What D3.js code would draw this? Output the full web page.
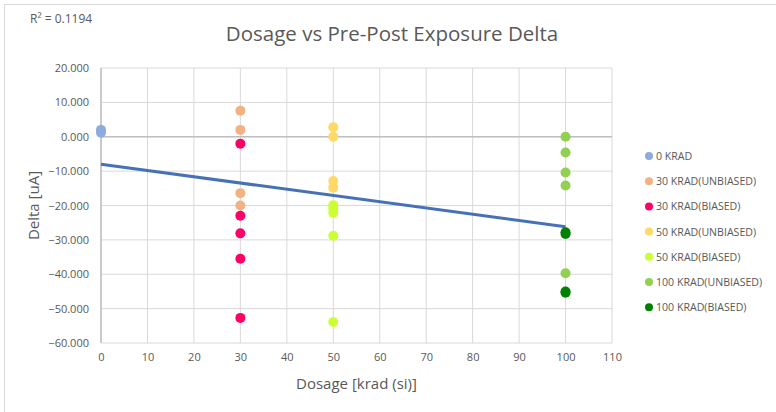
<!DOCTYPE html>
<html>
<head>
<meta charset="utf-8">
<script src="https://cdn.jsdelivr.net/npm/d3@7"></script>
<style>
  body { margin: 0; background: #fff; }
  svg { font-family: "Open Sans", "Liberation Sans", sans-serif; }
</style>
</head>
<body>
<svg id="chart" width="776" height="412"></svg>
<script>
// series
const seriesNames = ["0 KRAD", "30 KRAD(UNBIASED)", "30 KRAD(BIASED)", "50 KRAD(UNBIASED)",
  "50 KRAD(BIASED)", "100 KRAD(UNBIASED)", "100 KRAD(BIASED)"];
const seriesColors = ["#8faadc", "#f4b183", "#ff0066", "#ffd966", "#ccff33", "#92d050", "#008000"];
const dose0 = [2.0, 1.2];
const dose30Unbiased = [7.6, 2.0, -16.4, -20.0];
const dose30Biased = [-2.0, -23.0, -28.1, -35.5, -52.7];
const dose50Unbiased = [2.8, 0.0, -12.9, -14.8];
const dose50Biased = [-19.9, -20.8, -22.1, -28.8, -53.9];
const dose100Unbiased = [0.0, -4.6, -10.4, -14.2, -39.7];
const dose100Biased = [-27.8, -28.3, -45.0, -45.4];
const seriesX = [0, 30, 30, 50, 50, 100, 100];
const seriesY = [dose0, dose30Unbiased, dose30Biased, dose50Unbiased, dose50Biased, dose100Unbiased, dose100Biased];
const trendX = [0, 100];
const trendY = [-8.0, -26.2];
const xTicks = [0, 10, 20, 30, 40, 50, 60, 70, 80, 90, 100, 110];
const yTicks = [20, 10, 0, -10, -20, -30, -40, -50, -60];

const svg = d3.select("#chart");
const margin = { top: 68, left: 101, right: 164, bottom: 69 };
const width = 776 - margin.left - margin.right;
const height = 412 - margin.top - margin.bottom;

// outer chart border
svg.append("rect")
  .attr("x", 4.5).attr("y", 4.5)
  .attr("width", 780).attr("height", 420)
  .attr("fill", "none").attr("stroke", "#d9d9d9");

const x = d3.scaleLinear().domain([0, 110]).range([0, width]);
const y = d3.scaleLinear().domain([-60, 20]).range([height, 0]);

const g = svg.append("g").attr("transform", `translate(${margin.left},${margin.top})`);

// gridlines
g.selectAll(".vgrid").data(xTicks).enter().append("line")
  .attr("x1", d => x(d)).attr("x2", d => x(d))
  .attr("y1", 0).attr("y2", height)
  .attr("stroke", "#d9d9d9").attr("stroke-width", 1);
g.selectAll(".hgrid").data(yTicks).enter().append("line")
  .attr("x1", 0).attr("x2", width)
  .attr("y1", d => y(d)).attr("y2", d => y(d))
  .attr("stroke", "#d9d9d9").attr("stroke-width", 1);

// axis lines (zero line and left axis)
g.append("line")
  .attr("x1", 0).attr("x2", width)
  .attr("y1", y(0)).attr("y2", y(0))
  .attr("stroke", "#bfbfbf").attr("stroke-width", 1.5);
g.append("line")
  .attr("x1", x(0)).attr("x2", x(0))
  .attr("y1", 0).attr("y2", height)
  .attr("stroke", "#bfbfbf").attr("stroke-width", 1.5);

// tick labels
const xAxis = g.append("g")
  .attr("transform", `translate(0,${height})`)
  .call(d3.axisBottom(x).tickValues(xTicks).tickSize(0).tickPadding(10));
const yAxis = g.append("g")
  .call(d3.axisLeft(y).tickValues(yTicks).tickSize(0).tickPadding(12).tickFormat(d3.format(".3f")));
[xAxis, yAxis].forEach(a => {
  a.select(".domain").remove();
  a.selectAll("text")
    .attr("fill", "#595959")
    .style("font-size", "11px")
    .style("font-family", "\"Open Sans\", sans-serif");
});

// trendline
g.append("path")
  .datum(trendX.map((d, i) => [d, trendY[i]]))
  .attr("fill", "none")
  .attr("stroke", "#4672b5")
  .attr("stroke-width", 3)
  .attr("d", d3.line().x(d => x(d[0])).y(d => y(d[1])));

// points
seriesY.forEach((vals, i) => {
  g.selectAll(`.pt-${i}`).data(vals).enter().append("circle")
    .attr("cx", x(seriesX[i]))
    .attr("cy", d => y(d))
    .attr("r", 5)
    .attr("fill", seriesColors[i]);
});

// title and labels
svg.append("text")
  .attr("x", 392).attr("y", 41)
  .attr("text-anchor", "middle")
  .attr("fill", "#595959")
  .style("font-size", "20.5px")
  .text("Dosage vs Pre-Post Exposure Delta");

svg.append("text")
  .attr("x", 30).attr("y", 23)
  .attr("fill", "#595959")
  .style("font-size", "12px")
  .text("R² = 0.1194");

svg.append("text")
  .attr("transform", `translate(39,${margin.top + height / 2}) rotate(-90)`)
  .attr("text-anchor", "middle")
  .attr("fill", "#595959")
  .style("font-size", "15px")
  .text("Delta [uA]");

svg.append("text")
  .attr("x", margin.left + width / 2).attr("y", 389)
  .attr("text-anchor", "middle")
  .attr("fill", "#595959")
  .style("font-size", "15px")
  .text("Dosage [krad (si)]");

// legend
const legend = svg.append("g").attr("transform", "translate(649,156)");
seriesNames.forEach((name, i) => {
  const row = legend.append("g").attr("transform", `translate(0,${i * 25.2})`);
  row.append("circle").attr("r", 4).attr("fill", seriesColors[i]);
  row.append("text")
    .attr("x", 7).attr("y", 4)
    .attr("fill", "#595959")
    .style("font-size", "10.6px")
    .text(name);
});
</script>
</body>
</html>
